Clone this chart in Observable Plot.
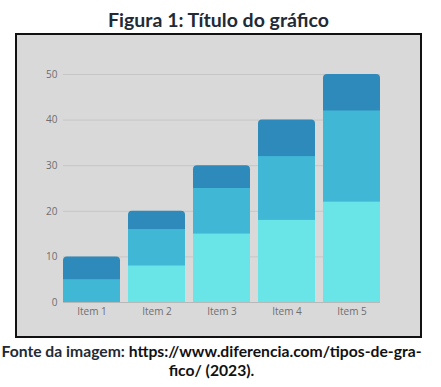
<!DOCTYPE html>
<html>
<head>
<meta charset="utf-8">
<script src="https://cdn.jsdelivr.net/npm/d3@7"></script>
<script src="https://cdn.jsdelivr.net/npm/@observablehq/plot@0.6"></script>
<style>
  html, body { margin: 0; padding: 0; background: #ffffff; }
  body { width: 441px; height: 387px; position: relative; overflow: hidden; }
  #title { position: absolute; left: 0; top: 8px; width: 437px; text-align: center;
    font-family: Lato, "Open Sans", sans-serif; font-weight: bold; font-size: 19.5px; color: #222a35; line-height: 24px; }
  #box { position: absolute; left: 15px; top: 33px; width: 403px; height: 301px;
    border: 2px solid #111; background: #d9d9d9; }
  #box svg { display: block; }
  #caption { position: absolute; left: 0; top: 342px; width: 423px; text-align: center;
    font-family: Lato, "Open Sans", sans-serif; font-weight: bold; font-size: 15.7px; color: #111; line-height: 19px; }
  #caption .lead { color: #222a35; }
</style>
</head>
<body>
<div id="title">Figura 1: Título do gráfico</div>
<div id="box"></div>
<div id="caption"><span class="lead">Fonte da imagem:</span> https://www.diferencia.com/tipos-de-gra-<br>fico/ (2023).</div>
<script>
const items = ["Item 1", "Item 2", "Item 3", "Item 4", "Item 5"];
const serieClara = [0, 8, 15, 18, 22];   // bottom, light cyan
const serieMedia = [5, 8, 10, 14, 20];   // middle, medium blue
const serieEscura = [5, 4, 5, 8, 8];     // top, dark blue
const yTicks = [0, 10, 20, 30, 40, 50];

const colClara = "#69e5e8";
const colMedia = "#41b7d6";
const colEscura = "#2d8aba";

const rows = items.map((item, i) => ({
  item,
  light: serieClara[i],
  mid: serieClara[i] + serieMedia[i],
  total: serieClara[i] + serieMedia[i] + serieEscura[i]
}));

const chart = Plot.plot({
  width: 403,
  height: 301,
  marginLeft: 46,
  marginRight: 40,
  marginTop: 39,
  marginBottom: 34,
  style: { background: "transparent", fontFamily: "'Open Sans', sans-serif", fontSize: "10px", color: "#6e6e6e" },
  x: { domain: items, paddingInner: 0.125, paddingOuter: 0, align: 0.5, label: null, tickSize: 0, tickPadding: 5 },
  y: { domain: [0, 50], ticks: yTicks, label: null, tickSize: 0, tickPadding: 6 },
  marks: [
    Plot.gridY(yTicks, { stroke: "#c6c6c6", strokeOpacity: 1 }),
    Plot.ruleY([0], { stroke: "#b8b8b8" }),
    Plot.barY(rows, { x: "item", y: "total", fill: colEscura, rx: 4 }),
    Plot.barY(rows, { x: "item", y: "mid", fill: colMedia }),
    Plot.barY(rows, { x: "item", y: "light", fill: colClara })
  ]
});
document.getElementById("box").appendChild(chart);
</script>
</body>
</html>
